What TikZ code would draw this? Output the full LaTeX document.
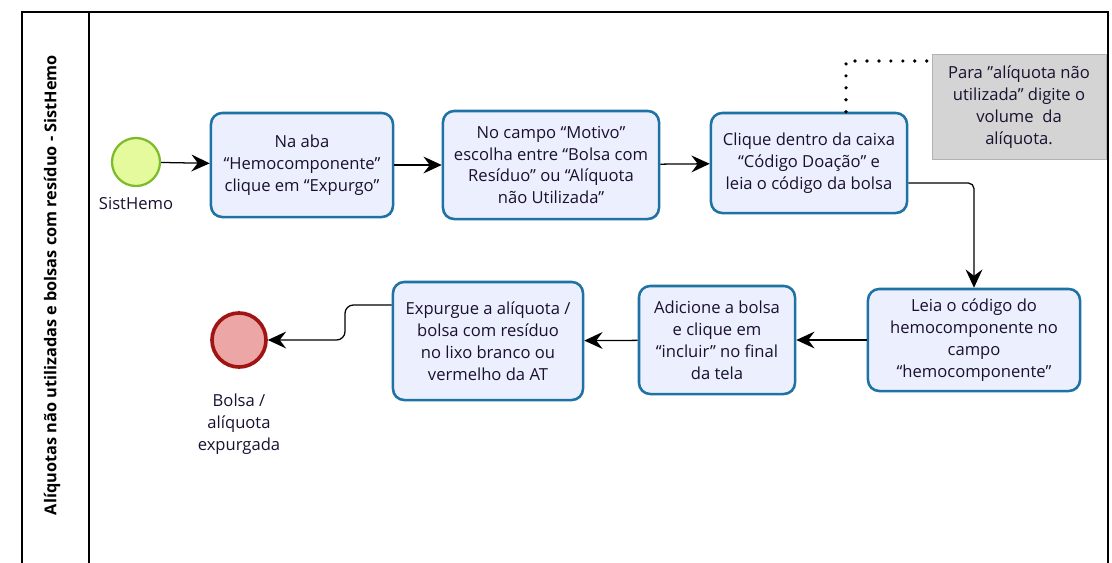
\documentclass[tikz,border=0pt]{standalone}
\usepackage{fontspec}
\setmainfont{Open Sans}
\usetikzlibrary{positioning,calc,arrows.meta}

\definecolor{azulborda}{HTML}{1E72A4}
\definecolor{azulfundo}{HTML}{ECEFFD}
\definecolor{texto}{HTML}{1A1030}
\definecolor{verdeclaro}{HTML}{E4FA9C}
\definecolor{verdeborda}{HTML}{7DBB2A}
\definecolor{rosa}{HTML}{EDA6A6}
\definecolor{vermelhoborda}{HTML}{A11414}
\definecolor{cinza}{HTML}{D4D4D4}

\tikzset{
  tarefa/.style={draw=azulborda, line width=1.8pt, fill=azulfundo,
    rounded corners=0.28cm, align=center, text=texto,
    font=\fontsize{11.8}{15.6}\selectfont, inner sep=2pt},
  fluxo/.style={-{Stealth[length=13pt,width=12pt,inset=4.5pt]}, line width=0.9pt},
  rotulo/.style={font=\fontsize{11.8}{15.6}\selectfont, align=center, text=texto}
}

\begin{document}
\begin{tikzpicture}[x=0.025cm, y=-0.025cm]
    \useasboundingbox (0,0) rectangle (1112,562);

    % Pool and lane
    \draw[line width=0.8pt] (22,575) -- (22,12) -- (1108,12) -- (1108,575);
    \draw[line width=0.8pt] (89,12) -- (89,575);
    \node[rotate=90, font=\bfseries\fontsize{11.6}{14}\selectfont] (pool) at (52,285)
        {Alíquotas não utilizadas e bolsas com resíduo - SistHemo};

    % Events
    \node[circle, draw=verdeborda, fill=verdeclaro, line width=1.6pt, minimum size=1.2cm] (inicio) at (136,162) {};
    \node[rotulo, below=0.12cm of inicio] (inicioL) {SistHemo};
    \node[circle, draw=vermelhoborda, fill=rosa, line width=2.6pt, minimum size=1.35cm] (fim) at (239,340) {};
    \node[rotulo, below=0.5cm of fim] (fimL) {Bolsa /\\alíquota\\expurgada};

    % Tasks
    \node[tarefa, minimum width=4.55cm, minimum height=2.6cm] (aba) at (302,165)
        {Na aba\\“Hemocomponente”\\clique em “Expurgo”};
    \node[tarefa, minimum width=5.4cm, minimum height=2.7cm] (motivo) at (551,165)
        {No campo “Motivo”\\escolha entre “Bolsa com\\Resíduo” ou “Alíquota\\não Utilizada”};
    \node[tarefa, minimum width=4.9cm, minimum height=2.5cm] (caixa) at (809,163)
        {Clique dentro da caixa\\“Código Doação” e\\leia o código da bolsa};
    \node[tarefa, minimum width=5.3cm, minimum height=2.55cm] (leitura) at (974,340)
        {Leia o código do\\hemocomponente no\\campo\\“hemocomponente”};
    \node[tarefa, minimum width=3.9cm, minimum height=2.7cm] (incluir) at (717,340)
        {Adicione a bolsa\\e clique em\\“incluir” no final\\da tela};
    \node[tarefa, minimum width=4.75cm, minimum height=2.95cm] (expurgo) at (488,341)
        {Expurgue a alíquota /\\bolsa com resíduo\\no lixo branco ou\\vermelho da AT};

    % Annotation
    \node[fill=cinza, draw=gray!60, minimum width=4.35cm, minimum height=2.62cm, align=center,
          font=\fontsize{11.8}{15.6}\selectfont, text=texto] (nota) at (1019,107)
        {Para "alíquota não\\utilizada" digite o\\volume~ da\\alíquota.};
    \coordinate (notaC) at (846,61);
    \draw[line width=2.6pt, line cap=round, dash pattern=on 0pt off 8.5pt]
        (caixa.north -| notaC) -- (notaC) -- (nota.west |- notaC);

    % Sequence flows
    \draw[fluxo] (inicio) -- (aba);
    \draw[fluxo] (aba) -- (motivo);
    \draw[fluxo] (motivo) -- (caixa);
    \draw[fluxo, rounded corners=4pt] ([yshift=-0.5cm]caixa.east) -| (leitura.north);
    \draw[fluxo] (leitura) -- (incluir);
    \draw[fluxo] (incluir) -- (expurgo);
    \coordinate (meio) at (345,340);
    \draw[fluxo, rounded corners=6pt] ([yshift=0.9cm]expurgo.west) -| (meio) -- (fim);
\end{tikzpicture}
\end{document}
